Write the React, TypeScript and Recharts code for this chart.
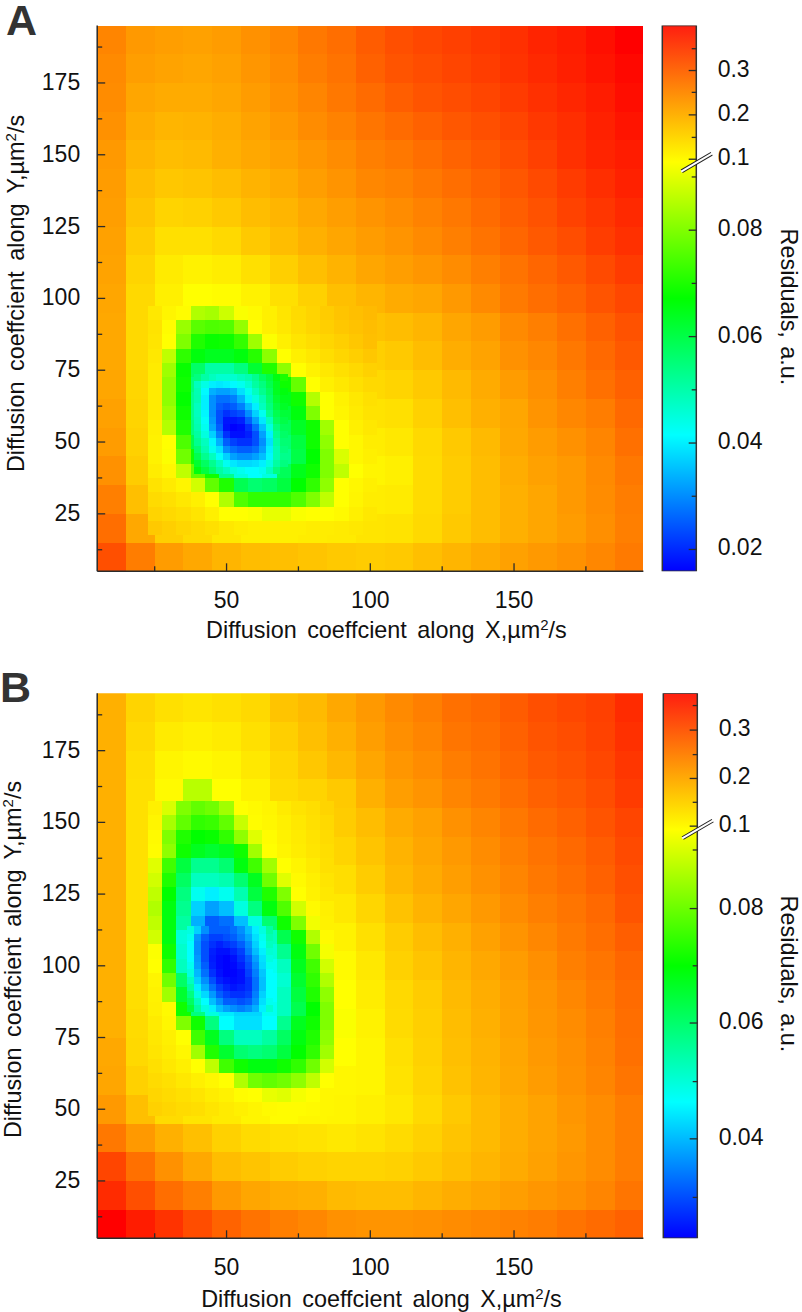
import React from "react";
import { ScatterChart, Scatter, XAxis, YAxis, BarChart, Bar } from "recharts";

// All heat values are positions along the colour bar: 0 = blue, 100 = cyan, 200 = green, 300 = yellow, 400 = red.
const coarseX = [10, 20, 30, 40, 50, 60, 70, 80, 90, 100, 110, 120, 130, 140, 150, 160, 170, 180, 190];
const coarseY = [190, 180, 170, 160, 150, 140, 130, 120, 110, 100, 90, 80, 70, 60, 50, 40, 30, 20, 10];

const coarseA = [
  [348,340,338,337,339,343,347,353,357,364,369,372,375,378,381,386,389,394,400],
  [346,338,336,335,337,341,345,351,355,362,367,370,373,376,380,384,388,392,397],
  [345,335,333,333,335,339,343,348,353,358,363,367,370,373,377,381,385,389,395],
  [343,332,329,330,332,336,340,345,349,354,358,362,366,369,373,378,382,387,392],
  [340,329,326,327,331,334,337,341,345,350,353,357,361,365,370,375,381,386,389],
  [339,326,322,323,326,330,333,338,342,347,349,353,357,361,366,371,377,382,387],
  [338,323,317,318,321,326,329,334,338,342,345,349,353,358,363,368,374,379,384],
  [337,320,312,312,315,321,326,331,335,339,342,346,350,355,360,365,370,376,381],
  [336,317,308,305,307,312,319,325,330,335,338,341,345,350,355,360,365,371,377],
  [335,315,306,300,301,305,312,318,325,329,333,335,340,346,352,357,361,367,372],
  [334,315,300,235,232,258,300,309,316,324,326,329,335,339,346,350,356,362,368],
  [334,315,275,195,188,195,215,300,309,319,321,326,332,336,343,347,353,359,365],
  [335,316,256,150,102,112,175,257,306,315,317,321,327,333,339,344,350,356,362],
  [337,317,262,144,50,44,137,250,304,311,312,318,325,331,335,342,347,351,359],
  [339,318,300,170,69,25,106,206,300,307,309,315,321,327,334,339,343,348,356],
  [343,320,303,238,144,100,144,206,275,304,306,314,320,326,332,337,340,346,353],
  [350,325,312,306,269,219,219,250,300,307,308,314,320,326,331,335,340,345,351],
  [357,334,319,314,309,306,306,307,308,310,311,315,321,326,331,335,339,344,350],
  [369,351,339,334,329,326,325,323,321,320,321,325,329,333,337,340,343,347,352],
];

const fineXA = [25, 30, 35, 40, 45, 50, 55, 60, 65, 70, 75, 80, 85, 90, 95, 100];
const fineYA = [95, 90, 85, 80, 75, 70, 65, 60, 55, 50, 45, 40, 35, 30, 25, 20];
const fineA = [
  [309,304,301,269,265,280,298,302,306,310,314,317,320,323,325,327],
  [311,301,260,235,230,232,258,300,306,309,313,316,319,322,324,326],
  [310,300,250,212,203,205,220,262,299,306,310,313,316,319,322,325],
  [309,275,218,195,188,188,195,215,255,300,306,309,313,316,319,322],
  [308,262,203,160,135,135,150,180,212,256,300,305,309,312,315,318],
  [308,256,206,150,112,102,112,138,175,205,240,300,306,309,312,315],
  [308,256,201,143,88,63,70,98,131,190,206,270,300,305,309,312],
  [308,262,206,144,94,50,25,44,88,178,195,250,300,304,308,311],
  [306,270,212,150,94,44,8,19,63,165,185,206,263,300,306,309],
  [305,300,230,170,118,69,31,25,56,155,175,206,256,300,303,307],
  [305,299,244,206,137,106,75,63,75,145,172,200,250,285,303,306],
  [307,303,275,238,206,144,112,100,112,165,190,206,250,275,300,304],
  [311,308,304,282,238,212,168,156,162,175,200,219,256,300,303,306],
  [314,312,309,306,300,269,231,219,219,219,231,250,275,300,304,307],
  [317,315,313,310,306,300,300,298,291,291,298,300,300,302,306,309],
  [321,319,316,314,312,309,307,306,306,306,306,307,307,308,309,310],
];

const ultraXA = [40, 42.5, 45, 47.5, 50, 52.5, 55, 57.5, 60, 62.5, 65, 67.5, 70];
const ultraYA = [72.5, 70, 67.5, 65, 62.5, 60, 57.5, 55, 52.5, 50, 47.5, 45, 42.5, 40];
const ultraA = [
  [150,135,125,118,118,118,125,131,144,162,175,194,210],
  [125,110,94,91,94,98,106,118,137,150,169,188,205],
  [130,98,69,63,63,69,88,106,125,144,162,188,195],
  [131,94,56,44,44,50,69,94,112,131,156,181,190],
  [125,94,56,37,31,37,50,75,94,125,150,175,185],
  [125,97,56,31,19,25,31,56,82,106,144,169,178],
  [128,102,60,31,8,8,12,37,63,91,125,162,172],
  [131,106,66,37,6,0,3,19,44,75,112,150,165],
  [137,112,82,50,19,6,6,12,31,63,94,144,160],
  [144,125,97,69,37,25,19,19,31,56,88,137,155],
  [156,131,106,88,56,44,37,37,44,63,94,131,150],
  [169,144,125,102,82,63,56,56,63,75,97,131,145],
  [181,162,144,125,106,91,85,85,88,94,112,137,150],
  [194,175,156,137,125,112,106,100,100,106,125,150,165],
];

const coarseB = [
  [331,317,312,310,312,315,323,327,334,340,346,350,356,359,364,369,372,375,383],
  [331,315,308,306,308,312,319,325,331,338,344,348,354,357,362,367,370,374,381],
  [331,313,304,302,304,309,316,322,328,335,341,345,351,355,360,365,368,372,379],
  [331,312,302,272,300,305,314,317,321,331,338,342,348,352,357,362,365,370,377],
  [331,312,300,280,280,300,306,312,320,326,333,337,343,348,353,358,362,367,373],
  [331,312,290,200,190,210,290,308,317,323,330,335,340,345,350,355,359,364,371],
  [331,312,280,130,130,200,280,305,313,320,328,333,338,343,348,353,357,362,369],
  [331,312,270,80,70,150,270,302,309,316,324,330,335,340,345,350,354,359,367],
  [331,312,285,60,30,70,210,290,305,312,320,326,331,337,342,347,352,357,363],
  [331,312,300,60,5,40,125,280,302,309,318,323,329,334,339,344,350,354,360],
  [331,313,305,120,45,30,125,255,300,307,315,320,327,332,337,342,347,352,358],
  [331,314,308,206,100,88,144,250,298,305,314,319,326,331,336,341,345,350,357],
  [334,315,310,263,181,150,175,263,300,304,312,318,325,330,335,340,344,349,356],
  [335,318,312,303,300,244,244,300,303,304,311,317,324,329,334,339,343,348,354],
  [340,325,314,310,308,304,301,303,304,306,309,315,321,327,332,336,341,345,351],
  [353,340,331,325,318,314,312,311,309,311,314,318,323,327,332,336,340,345,351],
  [373,356,343,334,326,323,320,318,317,317,318,321,325,329,333,337,341,345,351],
  [383,369,357,350,340,335,332,331,327,326,326,329,332,335,338,341,344,348,354],
  [400,389,380,370,361,355,350,347,343,342,342,343,345,347,349,351,355,358,362],
];

const fineXB = [25, 30, 35, 40, 45, 50, 55, 60, 65, 70, 75, 80, 85];
const fineYB = [155, 150, 145, 140, 135, 130, 125, 120, 115, 110, 105, 100, 95, 90, 85, 80, 75, 70, 65, 60, 55, 50];
const fineB = [
  [306,285,250,238,244,263,300,302,304,308,311,313,317],
  [304,266,238,219,222,238,278,301,303,306,309,312,315],
  [302,250,212,200,203,219,256,288,301,305,308,311,314],
  [301,256,206,188,181,188,206,263,300,304,307,310,313],
  [288,225,175,144,144,156,194,225,263,300,304,308,312],
  [282,212,162,125,125,131,156,188,244,288,302,306,310],
  [275,200,150,106,94,106,131,175,212,250,300,305,309],
  [269,194,144,82,63,75,112,150,194,231,282,302,306],
  [275,194,137,69,37,44,75,112,156,206,250,295,305],
  [282,194,115,56,25,19,37,69,125,169,206,269,302],
  [299,206,120,56,19,8,19,50,115,144,194,244,296],
  [300,219,125,63,12,2,14,40,105,125,188,225,282],
  [304,244,160,88,44,12,14,31,100,118,181,219,269],
  [305,263,181,118,75,44,25,31,100,125,175,212,256],
  [306,302,206,150,112,92,84,84,105,125,169,200,250],
  [308,303,250,206,150,100,88,88,100,144,188,206,250],
  [309,306,300,225,188,150,125,125,137,162,194,212,256],
  [310,307,303,263,212,181,156,150,156,175,200,219,263],
  [312,309,306,300,275,225,206,194,194,206,219,244,282],
  [314,312,309,306,303,300,269,244,238,244,256,275,300],
  [316,314,312,310,307,305,301,300,291,288,296,300,303],
  [318,316,314,313,310,308,306,304,302,301,301,302,303],
];

const ultraXB = [37.5, 40, 42.5, 45, 47.5, 50, 52.5, 55, 57.5, 60, 62.5, 65];
const ultraYB = [112.5, 110, 107.5, 105, 102.5, 100, 97.5, 95, 92.5, 90, 87.5, 85];
const ultraB = [
  [112,82,56,37,37,37,44,56,75,94,112,137],
  [106,60,37,25,25,31,37,50,66,88,106,131],
  [100,56,31,19,12,19,25,37,56,82,102,125],
  [100,56,31,12,6,6,14,25,50,75,94,118],
  [100,60,31,10,3,0,6,19,37,63,88,112],
  [106,63,37,12,3,0,3,12,31,56,85,106],
  [112,72,44,19,6,0,1,6,25,50,78,100],
  [125,82,56,31,12,6,3,6,19,44,75,100],
  [137,94,69,44,25,14,8,12,19,44,75,100],
  [150,110,85,60,37,25,19,19,25,50,82,100],
  [162,125,100,75,56,37,37,31,37,56,88,106],
  [175,137,112,94,75,63,56,50,56,69,94,118],
];

const xTicks = [25, 50, 75, 100, 125, 150, 175];
const xLabels = [50, 100, 150];
const yTicks = [12.5, 25, 37.5, 50, 62.5, 75, 87.5, 100, 112.5, 125, 137.5, 150, 162.5, 175, 187.5];
const yLabels = [25, 50, 75, 100, 125, 150, 175];

const barLevelsA = [16, 55, 94, 133, 172, 211, 250, 289, 302, 318, 334.5, 351, 367, 383];
const barTextsA = ["0.02", "", "0.04", "", "0.06", "", "0.08", "", "0.1", "", "0.2", "", "0.3", ""];
const barLevelsB = [30, 73, 115, 158, 200, 242, 285, 302.5, 320, 337.5, 355, 373, 391];
const barTextsB = ["", "0.04", "", "0.06", "", "0.08", "", "0.1", "", "0.2", "", "0.3", ""];

const FONT = "'Liberation Sans', Arial, sans-serif";
const INK = "#2b2b2b";
const DOMAIN: [number, number] = [5, 195];

function levelColor(v: number) {
  const c = Math.max(0, Math.min(400, v));
  let r = 0, g = 0, b = 0;
  if (c < 100) { g = c * 2.55; b = 255; }
  else if (c < 200) { g = 255; b = (200 - c) * 2.55; }
  else if (c < 300) { r = (c - 200) * 2.55; g = 255; }
  else { r = 255; g = (400 - c) * 2.55; }
  return `rgb(${Math.round(r)},${Math.round(g)},${Math.round(b)})`;
}

function cells(xs: number[], ys: number[], rows: number[][]) {
  return rows.flatMap((row, i) => row.map((level, j) => ({ x: xs[j], y: ys[i], level })));
}

function CellShape(props: any) {
  const { cx, cy, payload, w, h } = props;
  return <rect x={cx - w / 2} y={cy - h / 2} width={w} height={h} fill={levelColor(payload.level)} shapeRendering="crispEdges" />;
}

function XTick(props: any) {
  const { x, y, payload, dir, labelled } = props;
  const v = payload.value;
  const major = xLabels.includes(v);
  return (
    <g>
      <line x1={x} x2={x} y1={y} y2={y + dir * (major ? 8 : 5)} stroke={INK} strokeWidth={1.3} />
      {labelled && major ? <text x={x} y={y + 36.7} textAnchor="middle" fontFamily={FONT} fontSize={23} fill="#111">{v}</text> : null}
    </g>
  );
}

function YTick(props: any) {
  const { x, y, payload, dir, labelled } = props;
  const v = payload.value;
  const major = yLabels.includes(v);
  return (
    <g>
      <line x1={x} x2={x + dir * (major ? 8 : 5)} y1={y} y2={y} stroke={INK} strokeWidth={1.3} />
      {labelled && major ? <text x={x - 17} y={y + 7} textAnchor="end" fontFamily={FONT} fontSize={23} fill="#111">{v}</text> : null}
    </g>
  );
}

function AxisTitle({ x, y, rotate }: { x: number; y: number; rotate?: boolean }) {
  const letter = rotate ? "Y" : "X";
  return (
    <text
      x={x}
      y={y}
      textAnchor="middle"
      fontFamily={FONT}
      fontSize={23.4}
      wordSpacing={4}
      fill="#111"
      transform={rotate ? `rotate(-90 ${x} ${y})` : undefined}
    >
      {`Diffusion coeffcient along ${letter},µm`}
      <tspan dy={-8} fontSize={15}>2</tspan>
      <tspan dy={8}>/s</tspan>
    </text>
  );
}

function HeatPanel(props: any) {
  const { top, height, plotTop, plotBottom, coarse, fine, fineXs, fineYs, ultra, ultraXs, ultraYs, letter, letterX, letterY, xTitle, xTitleY, yTitleX, yTitleY } = props;
  const left = 97.2;
  const right = 643.4;
  const unitX = (right - left) / 190;
  const unitY = (plotBottom - plotTop) / 190;
  const coarseCells = cells(coarseX, coarseY, coarse);
  const fineCells = cells(fineXs, fineYs, fine);
  const ultraCells = cells(ultraXs, ultraYs, ultra);
  return (
    <div style={{ position: "absolute", left: 0, top, width: 660, height }}>
      <ScatterChart width={660} height={height} margin={{ top: plotTop, right: 660 - right, bottom: 0, left: 0 }}>
        <XAxis xAxisId="b" type="number" dataKey="x" domain={DOMAIN} allowDataOverflow ticks={xTicks} interval={0} orientation="bottom" height={height - plotBottom} tickSize={0} tickMargin={0} tickLine={false} stroke={INK} strokeWidth={1.5} tick={<XTick dir={-1} labelled />} />
        <XAxis xAxisId="t" type="number" dataKey="x" domain={DOMAIN} allowDataOverflow ticks={xTicks} interval={0} orientation="top" height={0} tickSize={0} tickMargin={0} tickLine={false} stroke={INK} strokeWidth={1.5} tick={<XTick dir={1} />} />
        <YAxis yAxisId="l" type="number" dataKey="y" domain={DOMAIN} allowDataOverflow ticks={yTicks} interval={0} orientation="left" width={left} tickSize={0} tickMargin={0} tickLine={false} stroke={INK} strokeWidth={1.5} tick={<YTick dir={1} labelled />} />
        <YAxis yAxisId="r" type="number" dataKey="y" domain={DOMAIN} allowDataOverflow ticks={yTicks} interval={0} orientation="right" width={0} tickSize={0} tickMargin={0} tickLine={false} stroke={INK} strokeWidth={1.5} tick={<YTick dir={-1} />} />
        <Scatter xAxisId="b" yAxisId="l" data={coarseCells} isAnimationActive={false} zIndex={50} shape={<CellShape w={10 * unitX} h={10 * unitY} />} />
        <Scatter xAxisId="b" yAxisId="l" data={fineCells} isAnimationActive={false} zIndex={60} shape={<CellShape w={5 * unitX} h={5 * unitY} />} />
        <Scatter xAxisId="b" yAxisId="l" data={ultraCells} isAnimationActive={false} zIndex={70} shape={<CellShape w={2.5 * unitX} h={2.5 * unitY} />} />
        <text x={letterX} y={letterY} fontFamily={FONT} fontWeight="bold" fontSize={43} fill="#333">{letter}</text>
        <AxisTitle x={xTitle} y={xTitleY} />
        <AxisTitle x={yTitleX} y={yTitleY} rotate />
      </ScatterChart>
    </div>
  );
}

function BarTick(props: any) {
  const { x, y, payload, levels, texts, breakLevel } = props;
  const idx = levels.indexOf(payload.value);
  const text = texts[idx];
  const isMajor = text !== "";
  return (
    <g>
      <line x1={x} x2={x - (isMajor ? 8 : 5)} y1={y} y2={y} stroke={INK} strokeWidth={1.3} />
      {isMajor ? <text x={x + 21} y={y + 6} fontFamily={FONT} fontSize={23} fill="#111">{text}</text> : null}
      {payload.value === breakLevel ? (
        <g>
          <line x1={x - 15} y1={y + 12} x2={x + 15} y2={y - 5.5} stroke="#222" strokeWidth={4} />
          <line x1={x - 15.5} y1={y + 12.3} x2={x + 15.5} y2={y - 5.8} stroke="#fff" strokeWidth={2} />
        </g>
      ) : null}
    </g>
  );
}

function ColorBar(props: any) {
  const { top, height, plotTop, plotBottom, barLeft, barRight, levels, texts, breakLevel, gradientId, titleY, titleX } = props;
  const boxLeft = 640;
  const boxW = 162;
  const value = [{ name: "Residuals", level: 400 }];
  const tx = titleX - boxLeft;
  return (
    <div style={{ position: "absolute", left: boxLeft, top, width: boxW, height }}>
      <BarChart width={boxW} height={height} data={value} barCategoryGap={0} margin={{ top: plotTop, right: 0, bottom: height - plotBottom, left: barLeft - boxLeft }}>
        <defs>
          <linearGradient id={gradientId} x1="0" y1="1" x2="0" y2="0">
            <stop offset="0%" stopColor="#0000ff" />
            <stop offset="25%" stopColor="#00ffff" />
            <stop offset="50%" stopColor="#00ff00" />
            <stop offset="75%" stopColor="#ffff00" />
            <stop offset="100%" stopColor="#ff1e10" />
          </linearGradient>
        </defs>
        <XAxis dataKey="name" hide />
        <YAxis type="number" domain={[0, 400]} allowDataOverflow orientation="right" width={boxLeft + boxW - barRight} ticks={levels} interval={0} tickSize={0} tickMargin={0} tickLine={false} axisLine={false} tick={<BarTick levels={levels} texts={texts} breakLevel={breakLevel} />} />
        <Bar dataKey="level" fill={`url(#${gradientId})`} stroke="#333" strokeWidth={1.5} isAnimationActive={false} zIndex={50} />
        <text x={tx} y={titleY} textAnchor="middle" fontFamily={FONT} fontSize={23.4} fill="#111" wordSpacing={2} transform={`rotate(90 ${tx} ${titleY})`}>Residuals, a.u.</text>
      </BarChart>
    </div>
  );
}

export default function App() {
  return (
    <div style={{ position: "absolute", left: 0, top: 0, width: 802, height: 1312, background: "#fff", overflow: "hidden" }}>
      <HeatPanel top={0} height={650} plotTop={25.5} plotBottom={571.3} coarse={coarseA} fine={fineA} fineXs={fineXA} fineYs={fineYA} ultra={ultraA} ultraXs={ultraXA} ultraYs={ultraYA} letter="A" letterX={6} letterY={35} xTitle={386.4} xTitleY={638} yTitleX={24} yTitleY={293.5} />
      <ColorBar top={0} height={650} plotTop={25.5} plotBottom={571.3} barLeft={662.3} barRight={696.7} levels={barLevelsA} texts={barTextsA} breakLevel={302} gradientId="rampA" titleX={780.6} titleY={307} />
      <HeatPanel top={660} height={652} plotTop={33.3} plotBottom={578.3} coarse={coarseB} fine={fineB} fineXs={fineXB} fineYs={fineYB} ultra={ultraB} ultraXs={ultraXB} ultraYs={ultraYB} letter="B" letterX={0} letterY={41.5} xTitle={381.5} xTitleY={646.5} yTitleX={21.3} yTitleY={299.5} />
      <ColorBar top={660} height={652} plotTop={33.3} plotBottom={578.3} barLeft={663.3} barRight={697.7} levels={barLevelsB} texts={barTextsB} breakLevel={302.5} gradientId="rampB" titleX={780.6} titleY={974 - 660} />
    </div>
  );
}
